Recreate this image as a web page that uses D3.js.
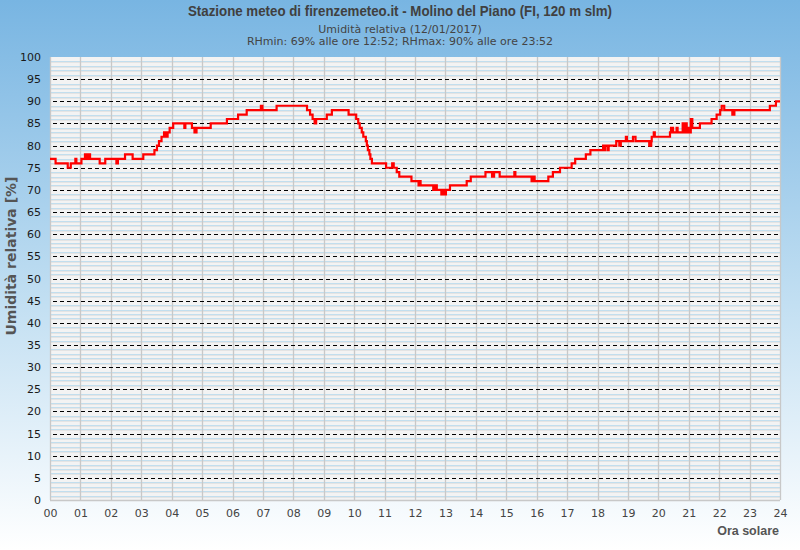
<!DOCTYPE html>
<html>
<head>
<meta charset="utf-8">
<script src="https://cdn.jsdelivr.net/npm/d3@7"></script>
<style>
  html, body { margin: 0; padding: 0; }
  body { width: 800px; height: 550px; overflow: hidden; }
  svg { display: block; }
</style>
</head>
<body>
<svg id="chart" width="800" height="550"></svg>
<script>
// ---- Data ----
const titleText = "Stazione meteo di firenzemeteo.it - Molino del Piano (FI, 120 m slm)";
const subtitleLines = ["Umidità relativa (12/01/2017)", "RHmin: 69% alle ore 12:52; RHmax: 90% alle ore 23:52"];
const yAxisTitle = "Umidità relativa [%]";
const xAxisTitle = "Ora solare";
const hourLabels = ["00","01","02","03","04","05","06","07","08","09","10","11","12","13","14","15","16","17","18","19","20","21","22","23","24"];
const yTickValues = [0,5,10,15,20,25,30,35,40,45,50,55,60,65,70,75,80,85,90,95,100];

// step series: time of change (HH:MM) and relative humidity (%)
const times = [
  "00:00","00:11","00:35","00:41","00:50","00:52","01:02","01:09","01:13","01:15","01:19","01:38","01:49","02:11","02:14","02:28","02:43",
  "03:04","03:26","03:31","03:35","03:40","03:45","03:48","03:52","03:56","04:03","04:25","04:27","04:40","04:45","04:49",
  "05:17","05:49","06:11","06:28","06:56","06:59","07:27","08:27","08:33","08:38","08:42","08:45","09:06","09:16","09:49",
  "10:04","10:08","10:11","10:15","10:18","10:23","10:25","10:27","10:30","10:32","10:35","11:03","11:15","11:18","11:24","11:29","11:53",
  "12:07","12:09","12:11","12:36","12:40","12:43","12:52","12:55","12:58","13:01","13:09","13:42","13:50",
  "14:19","14:32","14:36","14:47","15:16","15:18","15:50","15:52","15:56","16:23","16:32","16:46","17:09","17:16","17:37","17:46",
  "18:11","18:13","18:15","18:20","18:22","18:37","18:43","18:46","18:56","18:58","19:10","19:15","19:42","19:46","19:47","19:51","19:53",
  "20:23","20:25","20:29","20:36","20:38","20:48","20:50","20:52","20:54","20:56","21:00","21:02","21:04","21:07","21:22","21:45","21:55",
  "22:02","22:05","22:10","22:26","22:30","23:40","23:52","24:00"
];
const humidity = [
  77,76,75,76,77,76,77,78,77,78,77,76,77,76,77,78,77,
  78,79,80,81,82,83,82,83,84,85,84,85,84,83,84,
  85,86,87,88,89,88,89,88,87,86,85,86,87,88,87,
  86,85,84,83,82,81,80,79,78,77,76,75,76,75,74,73,72,
  71,72,71,70,71,70,69,70,69,70,71,72,73,
  74,73,74,73,74,73,72,73,72,73,74,75,76,77,78,79,
  80,79,80,79,80,81,80,81,82,81,82,81,80,81,82,83,82,
  83,84,83,84,83,85,84,83,85,83,84,83,86,84,85,86,87,
  88,89,88,87,88,89,90,90
];

// ---- Layout ----
const W = 800, H = 550;
const plot = {left: 50, right: 780, top: 57, bottom: 500};

const svg = d3.select("#chart");
const defs = svg.append("defs");
const grad = defs.append("linearGradient").attr("id","bg").attr("x1",0).attr("y1",0).attr("x2",0).attr("y2",1);
grad.append("stop").attr("offset","0%").attr("stop-color","#78b5e2");
grad.append("stop").attr("offset","55%").attr("stop-color","#c2dff2");
grad.append("stop").attr("offset","100%").attr("stop-color","#ffffff");
svg.append("rect").attr("width",W).attr("height",H).attr("fill","url(#bg)");

const x = d3.scaleLinear().domain([0,24]).range([plot.left, plot.right]);
const y = d3.scaleLinear().domain([0,100]).range([plot.bottom, plot.top]);

// plot background
svg.append("rect").attr("x",plot.left).attr("y",plot.top)
  .attr("width",plot.right-plot.left).attr("height",plot.bottom-plot.top)
  .attr("fill","#f3f3f3");

// minor horizontal grid (every 1%)
const minorSteps = d3.range(1, 100).filter(v => v % 5 !== 0);
const gMinor = svg.append("g");
gMinor.selectAll("line.b").data(minorSteps).join("line").attr("class","b")
  .attr("x1",plot.left).attr("x2",plot.right)
  .attr("y1",d => Math.round(y(d))+0.5).attr("y2",d => Math.round(y(d))+0.5)
  .attr("stroke","#c2deee").attr("stroke-width",1);
gMinor.selectAll("line.g").data(minorSteps).join("line").attr("class","g")
  .attr("x1",plot.left).attr("x2",plot.right)
  .attr("y1",d => Math.round(y(d))+1.5).attr("y2",d => Math.round(y(d))+1.5)
  .attr("stroke","#e4e4e4").attr("stroke-width",1);

// vertical hour grid
svg.append("g").selectAll("line").data(d3.range(0,25)).join("line")
  .attr("x1",d => Math.round(x(d))+0.5).attr("x2",d => Math.round(x(d))+0.5)
  .attr("y1",plot.top).attr("y2",plot.bottom)
  .attr("stroke","#c8c8c8").attr("stroke-width",1.3);

// major dashed lines
svg.append("g").selectAll("line").data(yTickValues.filter(v => v > 0 && v < 100)).join("line")
  .attr("x1",plot.left+3).attr("x2",plot.right)
  .attr("y1",d => Math.round(y(d))+0.5).attr("y2",d => Math.round(y(d))+0.5)
  .attr("stroke","#000").attr("stroke-width",1.1).attr("stroke-dasharray","4,3");

// bottom border
svg.append("line").attr("x1",plot.left).attr("x2",plot.right)
  .attr("y1",plot.bottom+0.5).attr("y2",plot.bottom+0.5)
  .attr("stroke","#c8c8c8").attr("stroke-width",1.3);

// y axis tick labels
const yAxis = d3.axisLeft(y).tickValues(yTickValues).tickSize(0).tickPadding(9);
const gy = svg.append("g").attr("transform",`translate(${plot.left},0)`).call(yAxis);
gy.select(".domain").remove();
gy.selectAll("text").attr("font-family","DejaVu Sans, sans-serif").attr("font-size",11).attr("fill","#1a1a1a");

// x axis tick labels
const xAxis = d3.axisBottom(x).tickValues(d3.range(0,25)).tickFormat(d => hourLabels[d]).tickSize(0).tickPadding(9);
const gx = svg.append("g").attr("transform",`translate(0,${plot.bottom})`).call(xAxis);
gx.select(".domain").remove();
gx.selectAll("text").attr("font-family","DejaVu Sans, sans-serif").attr("font-size",11).attr("fill","#444");

// humidity line
const parseT = s => { const [h,m] = s.split(":").map(Number); return h + m/60; };
const series = times.map((t,i) => ({t: parseT(t), v: humidity[i]}));
const line = d3.line().x(d => x(d.t)).y(d => y(d.v)).curve(d3.curveStepAfter);
svg.append("path").datum(series).attr("d",line)
  .attr("fill","none").attr("stroke","#ff0000").attr("stroke-width",2.2)
  .attr("stroke-linejoin","miter");

// titles
svg.append("text").attr("x",400).attr("y",16).attr("text-anchor","middle")
  .attr("font-family","Liberation Sans, Arial, sans-serif")
  .attr("font-weight","bold").attr("font-size",14).attr("fill","#404040")
  .attr("textLength",424).attr("lengthAdjust","spacingAndGlyphs").text(titleText);
subtitleLines.forEach((s,i) => {
  svg.append("text").attr("x",400).attr("y",33 + i*12.3).attr("text-anchor","middle")
    .attr("font-family","DejaVu Sans, sans-serif").attr("font-size",11).attr("fill","#444").text(s);
});

svg.append("text").attr("transform","translate(16,256) rotate(-90)").attr("text-anchor","middle")
  .attr("font-family","DejaVu Sans, sans-serif").attr("font-weight","bold").attr("font-size",14)
  .attr("fill","#555").text(yAxisTitle);

svg.append("text").attr("x",779).attr("y",535).attr("text-anchor","end")
  .attr("font-family","Liberation Sans, Arial, sans-serif").attr("font-weight","bold").attr("font-size",12.5)
  .attr("fill","#555").text(xAxisTitle);
</script>
</body>
</html>
